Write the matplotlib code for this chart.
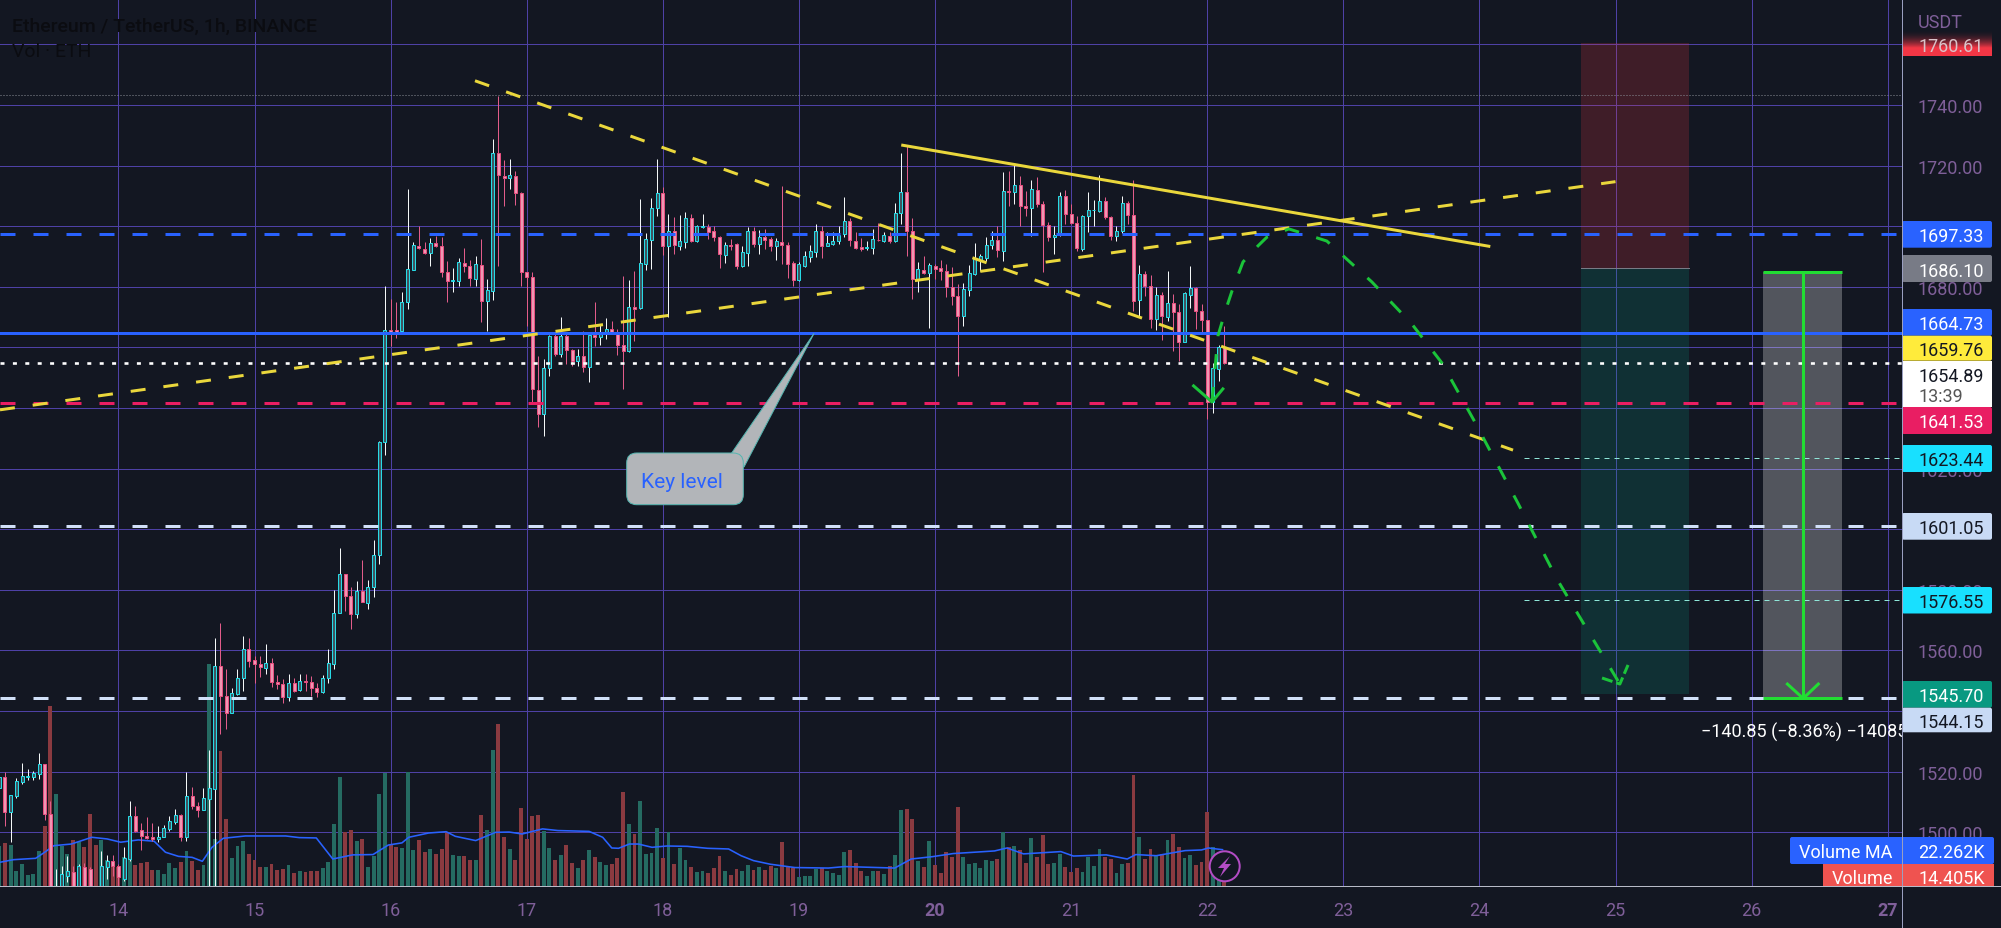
import numpy as np
import matplotlib
matplotlib.use("Agg")
import matplotlib.pyplot as plt
from matplotlib.patches import FancyBboxPatch, Polygon, Rectangle, Circle

plt.rcParams['font.family'] = ['Roboto', 'DejaVu Sans']
plt.rcParams['lines.scale_dashes'] = False

# hourly candles, first bar is 21 hours before day 14
FIRST_HOUR = -21
OPEN = [
 1514.6,1518.1,1506.8,1512.1,1516.5,1518.3,1518.1,1519.2,1522.4,1506.0,1478.0,1482.4,1485.7,1487.0,1480.0,1488.6,1487.9,1481.0,1482.4,1488.6,1490.6,
 1488.7,1484.6,1491.2,1505.2,1500.8,1498.9,1498.3,1497.8,1498.3,1501.0,1503.3,1505.8,1498.3,1511.8,1508.8,1507.4,
 1511.0,1514.4,1554.7,1544.8,1539.3,1545.6,1550.8,1560.5,
 1556.8,1555.4,1554.3,1555.7,1549.7,1548.9,1544.5,1549.3,1547.0,1550.0,1549.7,1547.5,1546.2,1550.8,1555.5,1572.2,1585.2,1577.8,1572.0,1579.5,1575.7,1581.0,1591.5,1628.7,
 1665.8,1665.8,1665.5,1674.9,1685.6,1693.6,1692.5,1691.2,1694.3,1693.6,1685.0,1681.8,1682.0,1687.9,1687.0,1682.6,1687.3,1675.4,1678.7,1724.0,1716.7,1715.8,1716.7,1711.0,
 1685.0,1683.1,1646.0,1638.0,1653.1,1663.7,1657.8,1663.7,1659.3,1655.6,1657.0,1653.4,1664.1,1663.3,1664.8,1666.1,1665.2,1660.8,1658.9,1673.2,1672.9,1687.5,1695.6,1706.0,
 1711.0,1693.4,1698.5,1693.6,1694.7,1702.6,1695.2,1699.7,1699.7,1698.5,1696.3,1690.6,1693.8,1694.1,1686.8,1691.2,1698.3,1694.1,1696.5,1695.8,1693.3,1694.9,1693.8,1687.9,
 1682.3,1687.0,1689.7,1691.4,1698.5,1693.6,1694.1,1695.2,1697.4,1701.8,1695.2,1693.0,1692.7,1692.8,1695.6,1695.2,1696.9,1695.2,1704.4,1711.2,1698.5,1682.6,1685.7,1684.6,
 1687.0,1686.1,1685.3,1679.8,1676.9,1670.3,1679.1,1684.2,1689.0,1689.5,1693.9,1695.6,1691.9,1711.7,1711.2,1713.7,1706.8,1705.9,1712.0,1707.3,1700.5,1696.3,1697.1,1709.9,
 1704.0,1701.0,1692.5,1703.2,1705.2,1705.1,1708.2,1702.9,1696.7,1698.3,1707.7,1703.8,1675.7,1684.2,1680.4,1669.4,1677.3,1670.0,1674.7,1671.8,1661.9,1677.4,1679.5,1671.9,
 1669.2,1641.9,1652.9,1660.0,
]
HIGH = [
 1519.2,1519.8,1512.3,1517.8,1522.8,1520.9,1520.3,1526.1,1522.4,1510.4,1487.9,1489.0,1492.0,1489.0,1489.5,1489.8,1488.4,1482.0,1493.7,1492.5,1492.5,
 1489.5,1495.0,1510.3,1508.8,1503.0,1505.0,1503.0,1502.2,1502.4,1505.5,1507.7,1506.0,1519.8,1514.8,1510.1,1514.5,
 1527.1,1564.0,1569.0,1554.0,1547.6,1553.9,1564.6,1564.0,
 1558.0,1558.3,1562.1,1557.4,1551.9,1550.6,1552.2,1550.8,1552.2,1552.2,1551.7,1549.3,1551.9,1560.5,1580.0,1593.8,1585.2,1581.0,1583.0,1589.8,1583.2,1596.4,1629.2,1680.1,
 1676.0,1675.0,1678.4,1712.3,1694.7,1700.2,1694.7,1696.0,1696.9,1696.5,1688.6,1686.1,1689.5,1692.8,1689.0,1690.3,1695.8,1682.6,1728.8,1743.0,1721.9,1722.2,1718.3,1711.2,
 1685.0,1684.8,1657.3,1656.2,1664.1,1664.4,1670.0,1664.4,1659.5,1659.5,1665.5,1664.4,1675.1,1667.7,1669.7,1668.8,1666.1,1683.7,1682.2,1685.1,1709.0,1697.8,1709.3,1722.2,
 1712.8,1704.0,1703.0,1703.7,1704.6,1704.0,1700.4,1704.0,1700.7,1700.0,1696.9,1694.7,1695.8,1694.5,1693.6,1699.6,1699.6,1698.9,1699.1,1696.3,1696.0,1713.4,1694.9,1688.6,
 1688.1,1691.9,1693.8,1700.7,1700.0,1698.0,1698.2,1700.0,1709.5,1702.6,1698.2,1696.2,1695.0,1699.1,1701.0,1698.0,1698.0,1707.7,1724.2,1726.6,1702.6,1688.3,1690.0,1687.9,
 1687.5,1688.9,1687.5,1686.4,1681.0,1681.3,1687.2,1694.5,1690.8,1696.3,1698.3,1700.0,1717.8,1718.3,1720.5,1716.5,1711.5,1715.2,1716.1,1708.2,1701.3,1700.2,1711.2,1712.1,
 1707.3,1703.5,1703.7,1711.2,1708.8,1716.9,1709.5,1703.3,1700.2,1710.1,1708.4,1715.4,1687.2,1685.3,1683.9,1679.8,1678.2,1685.1,1677.6,1674.3,1678.2,1687.0,1679.8,1674.3,
 1669.2,1655.0,1660.8,1667.2,
]
LOW = [
 1513.7,1502.0,1496.9,1511.4,1515.9,1517.3,1517.3,1517.6,1504.1,1477.0,1476.0,1480.0,1483.7,1478.0,1478.0,1479.0,1480.0,1476.0,1481.0,1484.6,1485.7,
 1482.4,1484.0,1490.6,1500.0,1494.1,1497.8,1497.2,1496.7,1498.3,1500.5,1502.7,1497.2,1497.2,1507.7,1504.9,1507.4,
 1482.4,1482.4,1532.4,1534.0,1539.3,1545.3,1546.6,1554.4,
 1549.2,1551.1,1552.2,1547.8,1547.3,1542.6,1543.4,1546.2,1546.5,1546.7,1544.8,1544.6,1546.0,1549.2,1553.9,1572.2,1573.1,1567.0,1570.7,1575.9,1573.7,1577.5,1588.5,1624.6,
 1660.4,1663.0,1665.2,1672.7,1685.6,1692.5,1690.8,1687.0,1693.0,1683.3,1675.1,1678.4,1680.4,1685.0,1680.4,1680.4,1668.3,1665.5,1675.8,1687.0,1706.8,1712.3,1707.0,1680.4,
 1667.2,1641.9,1633.6,1630.9,1650.7,1657.3,1656.7,1654.5,1654.0,1654.0,1651.8,1648.7,1660.6,1660.8,1662.8,1664.8,1657.5,1646.3,1658.4,1662.2,1672.7,1685.7,1685.9,1703.2,
 1690.6,1670.0,1690.8,1692.2,1692.8,1694.7,1694.7,1699.3,1695.8,1695.2,1686.1,1687.9,1692.1,1685.9,1686.4,1687.0,1693.0,1690.8,1692.5,1691.7,1689.0,1687.5,1682.8,1680.2,
 1682.0,1686.4,1688.3,1689.7,1689.5,1693.4,1693.8,1694.1,1696.3,1693.6,1692.5,1691.9,1692.3,1690.8,1695.2,1694.9,1694.5,1694.9,1700.7,1690.3,1676.0,1678.4,1684.2,1666.5,
 1682.6,1682.4,1676.5,1674.1,1650.7,1667.0,1677.1,1684.0,1685.3,1688.6,1692.5,1689.7,1688.6,1706.8,1707.3,1700.2,1703.3,1696.9,1706.2,1684.8,1695.2,1690.8,1696.9,1700.7,
 1700.7,1691.9,1691.9,1698.2,1700.2,1704.6,1702.4,1695.4,1695.2,1697.8,1700.7,1672.1,1670.5,1677.1,1666.3,1665.8,1662.6,1668.8,1658.9,1655.6,1661.7,1672.9,1666.1,1664.4,
 1636.4,1638.2,1648.8,1654.5,
]
CLOSE = [
 1518.1,1506.8,1512.3,1516.8,1518.4,1518.5,1519.5,1522.4,1506.0,1480.0,1481.0,1486.2,1487.1,1480.0,1488.7,1481.0,1482.0,1478.0,1488.7,1490.6,1489.0,
 1485.1,1491.4,1505.2,1500.5,1498.9,1498.2,1497.8,1498.3,1501.5,1503.7,1505.8,1498.3,1511.8,1508.8,1507.4,1511.2,
 1514.5,1554.8,1544.8,1539.3,1545.8,1550.8,1560.5,1556.6,
 1555.5,1554.4,1555.7,1549.7,1548.9,1544.5,1549.3,1546.7,1550.0,1549.5,1547.5,1546.2,1550.9,1555.7,1572.3,1585.2,1577.8,1572.0,1579.5,1575.9,1581.0,1591.5,1628.9,1665.8,
 1664.4,1665.2,1674.9,1685.9,1693.8,1692.7,1691.2,1694.3,1693.3,1685.0,1681.8,1682.2,1688.1,1687.0,1682.9,1687.5,1675.4,1679.0,1724.0,1716.9,1715.8,1716.9,1711.0,1685.0,
 1683.1,1646.3,1638.0,1653.1,1663.7,1657.8,1663.9,1659.3,1655.6,1657.0,1653.4,1664.1,1663.3,1664.4,1666.1,1665.2,1660.8,1658.9,1673.2,1672.7,1687.9,1695.8,1706.0,1711.0,
 1693.4,1698.5,1693.8,1695.2,1702.7,1695.2,1699.9,1699.9,1698.2,1696.3,1690.8,1693.8,1693.6,1687.0,1691.4,1698.3,1694.1,1696.5,1695.4,1693.4,1695.2,1693.8,1687.5,1682.4,
 1687.5,1690.0,1691.7,1698.5,1693.6,1694.4,1695.2,1697.1,1701.8,1695.5,1692.8,1692.5,1693.0,1695.8,1695.4,1697.1,1695.2,1704.4,1711.2,1698.5,1682.6,1685.9,1684.4,1687.2,
 1685.9,1685.3,1679.8,1676.9,1670.3,1679.3,1684.5,1689.2,1690.1,1693.9,1695.6,1692.0,1711.7,1711.2,1713.7,1706.8,1705.9,1712.3,1707.3,1700.5,1696.3,1697.2,1709.9,1704.0,
 1701.0,1692.7,1703.5,1705.3,1705.4,1708.2,1702.9,1696.7,1698.3,1707.7,1703.8,1675.4,1684.2,1680.4,1669.4,1677.3,1670.3,1674.7,1671.8,1661.9,1677.8,1679.5,1671.9,1669.2,
 1641.9,1653.1,1660.0,1654.89,
]
VOLUME_K = [
 24.7,26.1,25.1,9.5,13.6,6.9,7.5,21.3,36.9,109.9,56.1,24.7,19.7,28.4,26.8,23.7,44.0,25.3,28.4,16.0,14.0,
 12.0,18.0,17.6,13.2,14.2,14.6,9.9,9.9,7.5,14.2,11.1,14.6,21.3,15.6,9.9,13.0,135.0,28.8,82.5,40.9,17.0,24.3,27.6,19.7,
 16.2,11.6,12.0,13.6,10.1,10.5,13.0,8.1,9.3,8.9,9.5,9.3,10.9,15.0,37.9,66.3,33.2,34.3,27.8,28.8,12.0,18.6,56.1,68.9,
 25.7,24.1,23.3,69.3,22.1,28.2,21.1,22.7,19.7,22.7,32.8,19.1,18.6,18.4,16.2,16.0,43.4,34.3,82.9,98.7,30.2,22.7,16.2,47.4,
 28.8,43.0,43.4,33.9,23.5,16.2,19.1,25.1,14.2,11.1,16.2,22.1,18.0,14.6,13.2,13.6,17.2,57.6,37.9,31.8,52.1,19.7,20.3,35.5,
 17.2,32.8,13.6,23.3,16.0,11.6,8.9,9.1,8.1,11.1,18.6,9.1,6.9,10.5,9.5,13.0,10.1,12.0,9.9,12.2,11.1,27.2,12.0,11.1,
 5.5,6.1,6.5,10.5,11.1,9.3,8.1,6.9,20.7,22.1,14.0,9.3,6.1,9.3,9.1,7.5,12.6,19.1,46.4,47.0,40.9,15.2,11.6,27.4,
 13.2,8.1,20.7,17.6,48.0,17.6,13.6,14.2,11.1,16.0,15.4,16.6,32.8,23.7,24.3,22.1,14.2,29.2,17.6,31.0,13.6,14.2,19.7,11.6,
 8.5,11.1,8.5,17.6,12.4,22.7,17.6,16.6,8.1,13.6,14.0,67.7,30.0,16.6,22.7,18.2,19.9,28.2,31.8,23.7,17.0,19.1,13.0,14.6,
 45.0,24.0,12.0,14.405,
]
MA_HOUR = [-20.9,-18.5,-14.6,-13,-11.4,-8.3,-4.7,-2,0.4,3.5,6.3,8.3,10.6,13,14.8,16.5,18.5,22.4,29.5,31.9,34.9,37.8,41.3,44.9,47.6,50,51.2,54.7,57.8,59.4,63,66.5,68.9,71.2,74.8,77.5,83,85.4,87,88.2,90.1,91.7,94.1,
 96.7,100.3,103.9,107.6,109.8,112,115,119.3,125.2,128.1,136.9,139.8,143.5,147.2,154.5,156.7,159.6,166.2,168.4,174.2,177.9,179.4,183,188.1,191,192.2,194.7]
MA_K = [14.6,16.2,17,20.7,24.7,25.7,29.8,28.8,26.8,28.2,27.4,20.7,18.2,17.6,15.2,23.7,29.2,30.6,30.6,29.6,29.4,16.6,19.1,19.3,25.1,26.4,29.8,32.4,33.2,30.4,27.8,32.8,33,31.8,34.9,33.9,33.4,29.8,23.3,23.1,25.7,25.7,23.7,
 24.5,24.3,23.1,22.7,18.6,15.6,13.4,11.4,11.1,12,11.1,16.6,18,19.9,21.5,23.3,19.7,21.1,18.4,19.1,16.6,19.3,18.6,21.7,22.1,23.3,22.262]

PRICE_TICKS = list(range(1500, 1761, 20))
HIDDEN_PRICE_LABELS = [1540, 1600, 1640, 1660, 1760]
DAY_TICKS = [14,15,16,17,18,19,20,21,22,23,24,25,26,27]
BOLD_DAYS = [20, 27]

LEVEL_BLUE_DASH = 1697.33
LEVEL_BLUE = 1664.73
LEVEL_LAST = 1654.89
LEVEL_PINK = 1641.53
LEVEL_WHITE_1 = 1601.05
LEVEL_WHITE_2 = 1544.15
LEVEL_TARGET_1 = 1623.44
LEVEL_TARGET_2 = 1576.55
LEVEL_HIGH = 1743.3

RISE_D, RISE_P = [13.13, 25.0], [1639.4, 1714.7]
FALL_D, FALL_P = [16.62, 24.247], [1748.0, 1626.1]
SOLID_D, SOLID_P = [19.752, 24.08], [1726.8, 1693.3]
PATH_D = [22.035,22.079,22.131,22.182,22.263,22.373,22.439,22.6,22.879,23.21,23.504,23.724,23.959,24.283,24.569,25.032]
PATH_P = [1642.0,1663.8,1671.7,1678.6,1688.2,1693.5,1696.4,1699.1,1695.1,1681.6,1667.7,1654.9,1636.0,1608.6,1583.6,1548.9]

POS_D = (24.746, 25.542)
POS_STOP, POS_ENTRY, POS_TARGET = 1760.61, 1686.10, 1545.70
RANGE_D = (26.084, 26.665, 26.379)
RANGE_P = (1685.0, 1544.15)

BG = '#131722'
GRID = '#4e41a6'
AXTXT = '#7f5f99'
FS = 13
X0, X1 = 13.130, 27.105
Y0, Y1 = 1482.15, 1774.98
W, H = 2001, 929
PLOT_R, PLOT_B = 1902, 887.3
px = 0.72

fig = plt.figure(figsize=(W/100, H/100), dpi=100, facecolor=BG)
rect = [0, (H-PLOT_B)/H, PLOT_R/W, PLOT_B/H]

ax_grid = fig.add_axes(rect, zorder=1, facecolor=BG)
ax_grid.set_xlim(X0, X1); ax_grid.set_ylim(Y0, Y1)
for s in ax_grid.spines.values():
    s.set_visible(False)
ax_grid.yaxis.tick_right()
ax_grid.set_yticks(PRICE_TICKS, ['' if v in HIDDEN_PRICE_LABELS else f'{v:.2f}' for v in PRICE_TICKS])
ax_grid.set_xticks(DAY_TICKS, [str(d) for d in DAY_TICKS])
ax_grid.tick_params(axis='y', length=0, pad=11.5, labelsize=FS, labelcolor=AXTXT)
ax_grid.tick_params(axis='x', length=0, pad=10.5, labelsize=FS, labelcolor=AXTXT)
for lab, d in zip(ax_grid.get_xticklabels(), DAY_TICKS):
    if d in BOLD_DAYS:
        lab.set_fontweight('bold')
ax_grid.grid(True, color=GRID, lw=1*px)

hours = FIRST_HOUR + np.arange(len(OPEN))
days = 14 + hours/24
o, h, l, c = map(np.array, (OPEN, HIGH, LOW, CLOSE))
up = c >= o

ax_vol = fig.add_axes(rect, zorder=2, facecolor='none')
ax_vol.set_xlim(X0, X1); ax_vol.set_ylim(0, PLOT_B*0.608)
ax_vol.axis('off')
ax_vol.bar(days, VOLUME_K, width=3.9/136.1, color=np.where(up, '#256b62', '#8a3a40'), linewidth=0)
ax_vol.plot(14+np.array(MA_HOUR)/24, MA_K, color='#2962ff', lw=1.6*px)

ax = fig.add_axes(rect, zorder=3, facecolor='none')
ax.set_xlim(X0, X1); ax.set_ylim(Y0, Y1)
ax.axis('off')

# position tool behind candles
ax.add_patch(Rectangle((POS_D[0], POS_ENTRY), POS_D[1]-POS_D[0], POS_STOP-POS_ENTRY, fc='#f23645', alpha=0.2, lw=0, zorder=1))
ax.add_patch(Rectangle((POS_D[0], POS_TARGET), POS_D[1]-POS_D[0], POS_ENTRY-POS_TARGET, fc='#089981', alpha=0.2, lw=0, zorder=1))
ax.plot(POS_D, [POS_ENTRY]*2, color='#787b86', lw=1*px, zorder=1.5)

# price range tool
ax.add_patch(Rectangle((RANGE_D[0], RANGE_P[1]), RANGE_D[1]-RANGE_D[0], RANGE_P[0]-RANGE_P[1], fc='#ffffff', alpha=0.27, lw=0, zorder=1))

# candles
ax.vlines(days[up], l[up], h[up], color='#f4f7f8', lw=1*px, zorder=2)
ax.vlines(days[~up], l[~up], h[~up], color='#e25c8a', lw=1*px, zorder=2)
bw = 3.0/136.1
ax.bar(days[up], (c-o)[up], bottom=o[up], width=bw, facecolor='#3f5560', edgecolor='#27dbe6', lw=1*px, zorder=3)
ax.bar(days[~up], (o-c)[~up], bottom=c[~up], width=bw, facecolor='#ee97b2', edgecolor='#e74f80', lw=1*px, zorder=3)

dash = (0, (15*px, 18*px))
for lev, col in [(LEVEL_BLUE_DASH, '#2962ff'), (LEVEL_PINK, '#e91e63'), (LEVEL_WHITE_1, '#d1e0f8'), (LEVEL_WHITE_2, '#d1e0f8')]:
    ax.plot([X0, 27.06], [lev, lev], color=col, lw=3*px, ls=dash, dash_capstyle='butt', zorder=4)
ax.axhline(LEVEL_BLUE, color='#2962ff', lw=3*px, zorder=4)
ax.plot([X0, X1], [LEVEL_LAST]*2, color='#ffffff', lw=2.6*px, ls=(0, (4*px, 8.4*px)), dash_capstyle='butt', zorder=4)
ax.plot([X0, X1], [LEVEL_HIGH]*2, color='#8a8d96', lw=1*px, ls=(0, (1*px, 2*px)), zorder=1.6)
for lev in (LEVEL_TARGET_1, LEVEL_TARGET_2):
    ax.plot([24.33, X1], [lev, lev], color='#8fe6d8', lw=1*px, ls=(0, (5*px, 5*px)), zorder=4)

ax.plot(RISE_D, RISE_P, color='#ead73c', lw=3*px, ls=dash, dash_capstyle='butt', zorder=5)
ax.plot(FALL_D, FALL_P, color='#ead73c', lw=3*px, ls=dash, dash_capstyle='butt', zorder=5)
ax.plot(SOLID_D, SOLID_P, color='#ead73c', lw=3*px, solid_capstyle='butt', zorder=5)

GREEN = '#1bc43a'
ax.plot(PATH_D, PATH_P, color=GREEN, lw=3*px, ls=dash, dash_capstyle='butt', zorder=6)
ax.plot([21.90, 22.035, 22.115], [1647.3, 1642.0, 1646.3], color=GREEN, lw=3*px, zorder=6)
ax.plot([24.901, 25.032, 25.092], [1550.9, 1548.9, 1555.2], color=GREEN, lw=3*px, ls=(0, (11*px, 4*px)), zorder=6)

BRIGHT = '#22dd33'
ax.plot(RANGE_D[:2], [RANGE_P[0]]*2, color=BRIGHT, lw=3*px, solid_capstyle='butt', zorder=6)
ax.plot(RANGE_D[:2], [RANGE_P[1]]*2, color=BRIGHT, lw=3*px, solid_capstyle='butt', zorder=6)
ax.plot([RANGE_D[2]]*2, RANGE_P, color=BRIGHT, lw=3*px, zorder=6)
ax.plot([26.263, RANGE_D[2], 26.49], [1548.9, RANGE_P[1], 1548.9], color=BRIGHT, lw=3*px, zorder=6)
ax.text(25.628, 1533.2, '\u2212140.85 (\u22128.36%) \u221214085', color='white', fontsize=FS,
        ha='left', va='center', clip_on=True, zorder=7)

# interface layer in pixel space
ui = fig.add_axes([0, 0, 1, 1], zorder=10, facecolor='none')
ui.axis('off')

def tag(y0, y1, col, txt, tcol='white', x0=PLOT_R, x1=1992, tx=1918):
    ui.add_patch(FancyBboxPatch((x0, y0), x1-x0, y1-y0, boxstyle='round,pad=0,rounding_size=2', fc=col, ec='none', lw=0))
    ui.text(tx, (y0+y1)/2, txt, color=tcol, fontsize=FS, va='center_baseline', ha='left')

rgba = np.zeros((30, 1, 4))
rgba[..., 0] = 0xf2/255; rgba[..., 1] = 0x36/255; rgba[..., 2] = 0x45/255
rgba[:, 0, 3] = np.linspace(0, 1, 30)**2
ui.imshow(rgba, extent=(PLOT_R, 1992, 49, 30), aspect='auto', zorder=1)
ui.add_patch(Rectangle((PLOT_R, 49), 90, 8, fc='#f23645', lw=0))
ui.text(1918, 44.5, '1760.61', color='#d9c3c9', fontsize=FS, va='center_baseline', zorder=3)

tag(222, 248.7, '#2962ff', '1697.33')
tag(256, 283, '#787b86', '1686.10')
tag(310, 336.7, '#2962ff', '1664.73')
tag(336.7, 361.7, '#ffeb3b', '1659.76', '#131722')
ui.add_patch(Rectangle((PLOT_R, 361.7), 90, 46.5, fc='white', lw=0))
ui.text(1918, 375, '1654.89', color='#131722', fontsize=FS, va='center_baseline')
ui.text(1918, 395.5, '13:39', color='#555', fontsize=FS, va='center_baseline')
tag(408, 435, '#e91e63', '1641.53')
tag(446, 473, '#18e0ff', '1623.44', '#131722')
tag(514, 540.7, '#c8daf5', '1601.05', '#131722')
tag(588, 614.5, '#18e0ff', '1576.55', '#131722')
tag(682, 708.7, '#089981', '1545.70')
tag(708.7, 733.3, '#c8daf5', '1544.15', '#131722')

ui.add_patch(FancyBboxPatch((1790, 838), 204, 27, boxstyle='round,pad=0,rounding_size=2', fc='#2962ff', lw=0))
ui.text(1846, 851.5, 'Volume MA', color='white', fontsize=FS, va='center_baseline', ha='center')
ui.text(1918, 851.5, '22.262K', color='white', fontsize=FS, va='center_baseline')
ui.add_patch(Rectangle((1823, 865), 171, 22.3, fc='#ef5350', lw=0))
ui.text(1862, 877, 'Volume', color='white', fontsize=FS, va='center_baseline', ha='center')
ui.text(1918, 877, '14.405K', color='white', fontsize=FS, va='center_baseline')

ui.text(1918, 21, 'USDT', color=AXTXT, fontsize=FS, va='center_baseline')
ui.plot([PLOT_R, PLOT_R], [0, H], color='#9a9fc0', lw=1*px)
ui.plot([0, W], [PLOT_B, PLOT_B], color='#b8bbc8', lw=1*px)

ui.text(12, 25, 'Ethereum / TetherUS, 1h, BINANCE', color='#0b0c11', fontsize=14, va='center_baseline', fontweight='medium')
ui.text(12, 50, 'Vol \u00b7 ETH', color='#0b0c11', fontsize=14, va='center_baseline')

# callout
CALL = '#b2b5b9'
ui.add_patch(Polygon([(731, 455), (744, 468), (814, 334.5)], closed=True, fc=CALL, ec='#55b5b0', lw=1*px, zorder=2))
ui.add_patch(FancyBboxPatch((626.7, 454), 116.6, 51.7, boxstyle='round,pad=0,rounding_size=10', fc=CALL, ec='#55b5b0', lw=1*px, zorder=2))
ui.add_patch(Polygon([(728, 456), (742, 470), (735, 470)], closed=True, fc=CALL, ec='none', zorder=2.1))
ui.text(682, 480, 'Key level', color='#2962ff', fontsize=15, va='center_baseline', ha='center', zorder=3)

# replay icon
ui.add_patch(Circle((1224.7, 867.3), 15, fc=BG, ec='#b34cc4', lw=2*px, zorder=4))
ui.add_patch(Polygon([(1230, 857), (1218, 869), (1224, 869), (1220, 878), (1231, 865), (1225, 865)], closed=True, fc='#b34cc4', lw=0, zorder=5))

ui.set_xlim(0, W); ui.set_ylim(H, 0)

fig.savefig('out.png', dpi=100, facecolor=BG)
